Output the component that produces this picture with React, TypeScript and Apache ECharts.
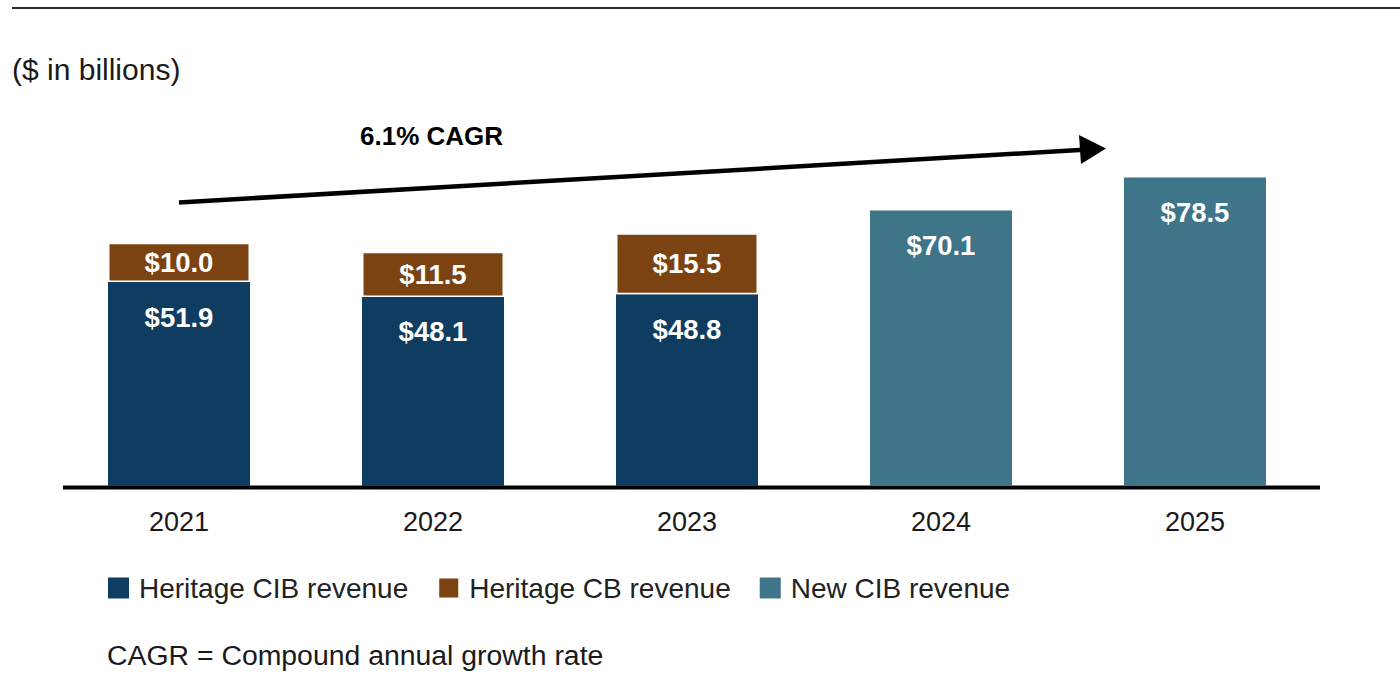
import React, { useEffect, useRef } from "react";
import * as echarts from "echarts";

const categories = ["2021", "2022", "2023", "2024", "2025"];
const heritageCIB = [51.9, 48.1, 48.8, "-", "-"];
const heritageCB = [10.0, 11.5, 15.5, "-", "-"];
const newCIB = ["-", "-", "-", 70.1, 78.5];
const seriesNames = ["Heritage CIB revenue", "Heritage CB revenue", "New CIB revenue"];
const colors = ["#0F3D62", "#7B4311", "#3E7589"];
const unitNote = "($ in billions)";
const cagrLabel = "6.1% CAGR";
const footnote = "CAGR = Compound annual growth rate";

const FONT = "'Liberation Sans', Arial, sans-serif";

export default function App() {
  const ref = useRef<HTMLDivElement>(null);
  useEffect(() => {
    if (!ref.current) return;
    const chart = echarts.init(ref.current, null, { renderer: "svg" });
    const fmt = (p: any) => "$" + Number(p.value).toFixed(1);
    const labelBase = {
      show: true,
      color: "#ffffff",
      fontFamily: FONT,
      fontWeight: "bold" as const,
      fontSize: 27.5,
      formatter: fmt,
    };
    chart.setOption({
      animation: false,
      textStyle: { fontFamily: FONT },
      grid: { left: 52, right: 78, top: 171.6, bottom: 201, containLabel: false },
      legend: {
        left: 103,
        top: 569,
        padding: 5,
        itemWidth: 21,
        itemHeight: 21,
        itemGap: 29,
        icon: "rect",
        selectedMode: false,
        textStyle: { fontFamily: FONT, fontSize: 28, color: "#222", padding: [0, 0, 0, 5] },
        data: seriesNames,
      },
      xAxis: {
        type: "category",
        data: categories,
        axisLine: { show: false },
        axisTick: { show: false },
        axisLabel: { fontFamily: FONT, fontSize: 27, color: "#1a1a1a", margin: 22 },
      },
      yAxis: { type: "value", min: 0, max: 80, show: false },
      series: [
        {
          name: seriesNames[0],
          type: "bar",
          stack: "total",
          barWidth: 142,
          data: heritageCIB,
          itemStyle: { color: colors[0] },
          label: { ...labelBase, position: "insideTop", distance: 21 },
        },
        {
          name: seriesNames[1],
          type: "bar",
          stack: "total",
          barWidth: 142,
          data: heritageCB,
          itemStyle: { color: colors[1], borderColor: "#ffffff", borderWidth: 1.5 },
          label: { ...labelBase, position: "inside" },
        },
        {
          name: seriesNames[2],
          type: "bar",
          stack: "total",
          barWidth: 142,
          data: newCIB,
          itemStyle: { color: colors[2] },
          label: { ...labelBase, position: "insideTop", distance: 21 },
        },
      ],
      graphic: [
        {
          type: "line",
          shape: { x1: 12, y1: 8, x2: 1400, y2: 8 },
          style: { stroke: "#2a2a2a", lineWidth: 2 },
        },
        {
          type: "line",
          shape: { x1: 63, y1: 487.5, x2: 1320, y2: 487.5 },
          style: { stroke: "#000000", lineWidth: 4 },
        },
        {
          type: "text",
          left: 12,
          top: 54,
          style: { text: unitNote, fontFamily: FONT, fontSize: 30, fill: "#1a1a1a" },
        },
        {
          type: "text",
          left: 360,
          top: 123,
          style: { text: cagrLabel, fontFamily: FONT, fontSize: 26, fontWeight: "bold", fill: "#000" },
        },
        {
          type: "line",
          shape: { x1: 179, y1: 202.5, x2: 1088, y2: 149.5 },
          style: { stroke: "#000", lineWidth: 4.5 },
        },
        {
          type: "polygon",
          shape: { points: [[1079, 135], [1106, 148.5], [1081, 164]] },
          style: { fill: "#000" },
        },
        {
          type: "text",
          left: 107,
          top: 641,
          style: { text: footnote, fontFamily: FONT, fontSize: 28.4, fill: "#1a1a1a" },
        },
      ],
    });
    return () => chart.dispose();
  }, []);
  return (
    <div
      ref={ref}
      style={{ position: "absolute", left: 0, top: 0, width: 1400, height: 687, background: "#fff" }}
    />
  );
}
